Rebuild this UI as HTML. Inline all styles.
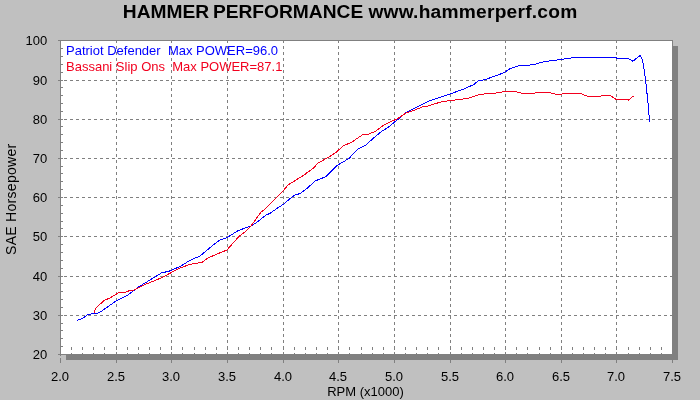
<!DOCTYPE html>
<html lang="en"><head><meta charset="utf-8"><title>HAMMER PERFORMANCE www.hammerperf.com</title>
<style>html,body{margin:0;padding:0;background:#c0c0c0;}body{width:700px;height:400px;overflow:hidden;}svg{display:block;}text{font-family:"Liberation Sans",Arial,Helvetica,sans-serif;}</style></head><body>
<svg width="700" height="400" viewBox="0 0 700 400">
<rect x="0" y="0" width="700" height="400" fill="#c0c0c0"/>
<g shape-rendering="crispEdges">
<rect x="66" y="46" width="612" height="314" fill="#808080"/>
<rect x="60" y="40" width="613" height="315" fill="#808080"/>
<rect x="61" y="41" width="611" height="313" fill="#ffffff"/>
<line x1="58" y1="40.5" x2="672" y2="40.5" stroke="#808080" stroke-width="1" stroke-dasharray="3 3"/>
<line x1="58" y1="80.5" x2="672" y2="80.5" stroke="#808080" stroke-width="1" stroke-dasharray="3 3"/>
<line x1="58" y1="119.5" x2="672" y2="119.5" stroke="#808080" stroke-width="1" stroke-dasharray="3 3"/>
<line x1="58" y1="158.5" x2="672" y2="158.5" stroke="#808080" stroke-width="1" stroke-dasharray="3 3"/>
<line x1="58" y1="197.5" x2="672" y2="197.5" stroke="#808080" stroke-width="1" stroke-dasharray="3 3"/>
<line x1="58" y1="236.5" x2="672" y2="236.5" stroke="#808080" stroke-width="1" stroke-dasharray="3 3"/>
<line x1="58" y1="276.5" x2="672" y2="276.5" stroke="#808080" stroke-width="1" stroke-dasharray="3 3"/>
<line x1="58" y1="315.5" x2="672" y2="315.5" stroke="#808080" stroke-width="1" stroke-dasharray="3 3"/>
<line x1="58" y1="354.5" x2="672" y2="354.5" stroke="#808080" stroke-width="1" stroke-dasharray="3 3"/>
<line x1="60.5" y1="40" x2="60.5" y2="363" stroke="#808080" stroke-width="1" stroke-dasharray="3 3"/>
<line x1="60.5" y1="347" x2="60.5" y2="362" stroke="#808080" stroke-width="1" stroke-dasharray="3 3"/>
<line x1="116.5" y1="40" x2="116.5" y2="363" stroke="#808080" stroke-width="1" stroke-dasharray="3 3"/>
<line x1="116.5" y1="347" x2="116.5" y2="362" stroke="#808080" stroke-width="1" stroke-dasharray="3 3"/>
<line x1="171.5" y1="40" x2="171.5" y2="363" stroke="#808080" stroke-width="1" stroke-dasharray="3 3"/>
<line x1="171.5" y1="347" x2="171.5" y2="362" stroke="#808080" stroke-width="1" stroke-dasharray="3 3"/>
<line x1="227.5" y1="40" x2="227.5" y2="363" stroke="#808080" stroke-width="1" stroke-dasharray="3 3"/>
<line x1="227.5" y1="347" x2="227.5" y2="362" stroke="#808080" stroke-width="1" stroke-dasharray="3 3"/>
<line x1="283.5" y1="40" x2="283.5" y2="363" stroke="#808080" stroke-width="1" stroke-dasharray="3 3"/>
<line x1="283.5" y1="347" x2="283.5" y2="362" stroke="#808080" stroke-width="1" stroke-dasharray="3 3"/>
<line x1="338.5" y1="40" x2="338.5" y2="363" stroke="#808080" stroke-width="1" stroke-dasharray="3 3"/>
<line x1="338.5" y1="347" x2="338.5" y2="362" stroke="#808080" stroke-width="1" stroke-dasharray="3 3"/>
<line x1="394.5" y1="40" x2="394.5" y2="363" stroke="#808080" stroke-width="1" stroke-dasharray="3 3"/>
<line x1="394.5" y1="347" x2="394.5" y2="362" stroke="#808080" stroke-width="1" stroke-dasharray="3 3"/>
<line x1="450.5" y1="40" x2="450.5" y2="363" stroke="#808080" stroke-width="1" stroke-dasharray="3 3"/>
<line x1="450.5" y1="347" x2="450.5" y2="362" stroke="#808080" stroke-width="1" stroke-dasharray="3 3"/>
<line x1="505.5" y1="40" x2="505.5" y2="363" stroke="#808080" stroke-width="1" stroke-dasharray="3 3"/>
<line x1="505.5" y1="347" x2="505.5" y2="362" stroke="#808080" stroke-width="1" stroke-dasharray="3 3"/>
<line x1="561.5" y1="40" x2="561.5" y2="363" stroke="#808080" stroke-width="1" stroke-dasharray="3 3"/>
<line x1="561.5" y1="347" x2="561.5" y2="362" stroke="#808080" stroke-width="1" stroke-dasharray="3 3"/>
<line x1="616.5" y1="40" x2="616.5" y2="363" stroke="#808080" stroke-width="1" stroke-dasharray="3 3"/>
<line x1="616.5" y1="347" x2="616.5" y2="362" stroke="#808080" stroke-width="1" stroke-dasharray="3 3"/>
<line x1="672.5" y1="40" x2="672.5" y2="363" stroke="#808080" stroke-width="1" stroke-dasharray="3 3"/>
<line x1="672.5" y1="347" x2="672.5" y2="362" stroke="#808080" stroke-width="1" stroke-dasharray="3 3"/>
<rect x="58" y="40" width="5" height="1" fill="#808080"/>
<rect x="60" y="48" width="3" height="1" fill="#808080"/>
<rect x="60" y="56" width="3" height="1" fill="#808080"/>
<rect x="60" y="64" width="3" height="1" fill="#808080"/>
<rect x="60" y="72" width="3" height="1" fill="#808080"/>
<rect x="58" y="80" width="5" height="1" fill="#808080"/>
<rect x="60" y="87" width="3" height="1" fill="#808080"/>
<rect x="60" y="95" width="3" height="1" fill="#808080"/>
<rect x="60" y="103" width="3" height="1" fill="#808080"/>
<rect x="60" y="111" width="3" height="1" fill="#808080"/>
<rect x="58" y="119" width="5" height="1" fill="#808080"/>
<rect x="60" y="126" width="3" height="1" fill="#808080"/>
<rect x="60" y="134" width="3" height="1" fill="#808080"/>
<rect x="60" y="142" width="3" height="1" fill="#808080"/>
<rect x="60" y="150" width="3" height="1" fill="#808080"/>
<rect x="58" y="158" width="5" height="1" fill="#808080"/>
<rect x="60" y="166" width="3" height="1" fill="#808080"/>
<rect x="60" y="173" width="3" height="1" fill="#808080"/>
<rect x="60" y="181" width="3" height="1" fill="#808080"/>
<rect x="60" y="189" width="3" height="1" fill="#808080"/>
<rect x="58" y="197" width="5" height="1" fill="#808080"/>
<rect x="60" y="205" width="3" height="1" fill="#808080"/>
<rect x="60" y="213" width="3" height="1" fill="#808080"/>
<rect x="60" y="221" width="3" height="1" fill="#808080"/>
<rect x="60" y="228" width="3" height="1" fill="#808080"/>
<rect x="58" y="236" width="5" height="1" fill="#808080"/>
<rect x="60" y="244" width="3" height="1" fill="#808080"/>
<rect x="60" y="252" width="3" height="1" fill="#808080"/>
<rect x="60" y="260" width="3" height="1" fill="#808080"/>
<rect x="60" y="268" width="3" height="1" fill="#808080"/>
<rect x="58" y="276" width="5" height="1" fill="#808080"/>
<rect x="60" y="283" width="3" height="1" fill="#808080"/>
<rect x="60" y="291" width="3" height="1" fill="#808080"/>
<rect x="60" y="299" width="3" height="1" fill="#808080"/>
<rect x="60" y="307" width="3" height="1" fill="#808080"/>
<rect x="58" y="315" width="5" height="1" fill="#808080"/>
<rect x="60" y="323" width="3" height="1" fill="#808080"/>
<rect x="60" y="330" width="3" height="1" fill="#808080"/>
<rect x="60" y="338" width="3" height="1" fill="#808080"/>
<rect x="60" y="346" width="3" height="1" fill="#808080"/>
<rect x="58" y="354" width="5" height="1" fill="#808080"/>
<line x1="71.5" y1="347" x2="71.5" y2="355" stroke="#808080" stroke-width="1" stroke-dasharray="3 3"/>
<line x1="82.5" y1="347" x2="82.5" y2="355" stroke="#808080" stroke-width="1" stroke-dasharray="3 3"/>
<line x1="93.5" y1="347" x2="93.5" y2="355" stroke="#808080" stroke-width="1" stroke-dasharray="3 3"/>
<line x1="104.5" y1="347" x2="104.5" y2="355" stroke="#808080" stroke-width="1" stroke-dasharray="3 3"/>
<line x1="127.5" y1="347" x2="127.5" y2="355" stroke="#808080" stroke-width="1" stroke-dasharray="3 3"/>
<line x1="138.5" y1="347" x2="138.5" y2="355" stroke="#808080" stroke-width="1" stroke-dasharray="3 3"/>
<line x1="149.5" y1="347" x2="149.5" y2="355" stroke="#808080" stroke-width="1" stroke-dasharray="3 3"/>
<line x1="160.5" y1="347" x2="160.5" y2="355" stroke="#808080" stroke-width="1" stroke-dasharray="3 3"/>
<line x1="182.5" y1="347" x2="182.5" y2="355" stroke="#808080" stroke-width="1" stroke-dasharray="3 3"/>
<line x1="194.5" y1="347" x2="194.5" y2="355" stroke="#808080" stroke-width="1" stroke-dasharray="3 3"/>
<line x1="205.5" y1="347" x2="205.5" y2="355" stroke="#808080" stroke-width="1" stroke-dasharray="3 3"/>
<line x1="216.5" y1="347" x2="216.5" y2="355" stroke="#808080" stroke-width="1" stroke-dasharray="3 3"/>
<line x1="238.5" y1="347" x2="238.5" y2="355" stroke="#808080" stroke-width="1" stroke-dasharray="3 3"/>
<line x1="249.5" y1="347" x2="249.5" y2="355" stroke="#808080" stroke-width="1" stroke-dasharray="3 3"/>
<line x1="260.5" y1="347" x2="260.5" y2="355" stroke="#808080" stroke-width="1" stroke-dasharray="3 3"/>
<line x1="271.5" y1="347" x2="271.5" y2="355" stroke="#808080" stroke-width="1" stroke-dasharray="3 3"/>
<line x1="294.5" y1="347" x2="294.5" y2="355" stroke="#808080" stroke-width="1" stroke-dasharray="3 3"/>
<line x1="305.5" y1="347" x2="305.5" y2="355" stroke="#808080" stroke-width="1" stroke-dasharray="3 3"/>
<line x1="316.5" y1="347" x2="316.5" y2="355" stroke="#808080" stroke-width="1" stroke-dasharray="3 3"/>
<line x1="327.5" y1="347" x2="327.5" y2="355" stroke="#808080" stroke-width="1" stroke-dasharray="3 3"/>
<line x1="349.5" y1="347" x2="349.5" y2="355" stroke="#808080" stroke-width="1" stroke-dasharray="3 3"/>
<line x1="361.5" y1="347" x2="361.5" y2="355" stroke="#808080" stroke-width="1" stroke-dasharray="3 3"/>
<line x1="372.5" y1="347" x2="372.5" y2="355" stroke="#808080" stroke-width="1" stroke-dasharray="3 3"/>
<line x1="383.5" y1="347" x2="383.5" y2="355" stroke="#808080" stroke-width="1" stroke-dasharray="3 3"/>
<line x1="405.5" y1="347" x2="405.5" y2="355" stroke="#808080" stroke-width="1" stroke-dasharray="3 3"/>
<line x1="416.5" y1="347" x2="416.5" y2="355" stroke="#808080" stroke-width="1" stroke-dasharray="3 3"/>
<line x1="427.5" y1="347" x2="427.5" y2="355" stroke="#808080" stroke-width="1" stroke-dasharray="3 3"/>
<line x1="438.5" y1="347" x2="438.5" y2="355" stroke="#808080" stroke-width="1" stroke-dasharray="3 3"/>
<line x1="461.5" y1="347" x2="461.5" y2="355" stroke="#808080" stroke-width="1" stroke-dasharray="3 3"/>
<line x1="472.5" y1="347" x2="472.5" y2="355" stroke="#808080" stroke-width="1" stroke-dasharray="3 3"/>
<line x1="483.5" y1="347" x2="483.5" y2="355" stroke="#808080" stroke-width="1" stroke-dasharray="3 3"/>
<line x1="494.5" y1="347" x2="494.5" y2="355" stroke="#808080" stroke-width="1" stroke-dasharray="3 3"/>
<line x1="516.5" y1="347" x2="516.5" y2="355" stroke="#808080" stroke-width="1" stroke-dasharray="3 3"/>
<line x1="527.5" y1="347" x2="527.5" y2="355" stroke="#808080" stroke-width="1" stroke-dasharray="3 3"/>
<line x1="539.5" y1="347" x2="539.5" y2="355" stroke="#808080" stroke-width="1" stroke-dasharray="3 3"/>
<line x1="550.5" y1="347" x2="550.5" y2="355" stroke="#808080" stroke-width="1" stroke-dasharray="3 3"/>
<line x1="572.5" y1="347" x2="572.5" y2="355" stroke="#808080" stroke-width="1" stroke-dasharray="3 3"/>
<line x1="583.5" y1="347" x2="583.5" y2="355" stroke="#808080" stroke-width="1" stroke-dasharray="3 3"/>
<line x1="594.5" y1="347" x2="594.5" y2="355" stroke="#808080" stroke-width="1" stroke-dasharray="3 3"/>
<line x1="605.5" y1="347" x2="605.5" y2="355" stroke="#808080" stroke-width="1" stroke-dasharray="3 3"/>
<line x1="628.5" y1="347" x2="628.5" y2="355" stroke="#808080" stroke-width="1" stroke-dasharray="3 3"/>
<line x1="639.5" y1="347" x2="639.5" y2="355" stroke="#808080" stroke-width="1" stroke-dasharray="3 3"/>
<line x1="650.5" y1="347" x2="650.5" y2="355" stroke="#808080" stroke-width="1" stroke-dasharray="3 3"/>
<line x1="661.5" y1="347" x2="661.5" y2="355" stroke="#808080" stroke-width="1" stroke-dasharray="3 3"/>
<rect x="60" y="360" width="1" height="3" fill="#808080"/>
<rect x="116" y="360" width="1" height="3" fill="#808080"/>
<rect x="171" y="360" width="1" height="3" fill="#808080"/>
<rect x="227" y="360" width="1" height="3" fill="#808080"/>
<rect x="283" y="360" width="1" height="3" fill="#808080"/>
<rect x="338" y="360" width="1" height="3" fill="#808080"/>
<rect x="394" y="360" width="1" height="3" fill="#808080"/>
<rect x="450" y="360" width="1" height="3" fill="#808080"/>
<rect x="505" y="360" width="1" height="3" fill="#808080"/>
<rect x="561" y="360" width="1" height="3" fill="#808080"/>
<rect x="616" y="360" width="1" height="3" fill="#808080"/>
<rect x="672" y="360" width="1" height="3" fill="#808080"/>
<rect x="60" y="40" width="1" height="315" fill="#808080"/>
<rect x="58" y="354" width="615" height="1" fill="#808080"/>
<rect x="66" y="355" width="612" height="5" fill="#808080"/>
<rect x="672" y="40" width="1" height="315" fill="#808080"/>
<rect x="60" y="40" width="613" height="1" fill="#808080"/>
<polyline fill="none" stroke="#0000ff" stroke-width="1" points="77.4,320.4 83.0,318.0 88.0,314.4 92.0,313.8 97.0,313.6 101.0,311.6 106.0,308.0 116.0,301.0 128.0,295.0 133.0,291.0 140.0,286.0 150.0,280.0 162.0,272.6 168.0,271.6 180.0,266.6 190.0,260.3 200.0,256.0 212.0,246.0 220.0,240.0 227.4,237.4 238.0,230.6 250.0,226.4 256.0,223.0 266.0,215.0 270.0,213.4 278.0,207.6 283.4,204.4 289.0,199.4 295.0,195.0 300.0,193.6 308.0,187.6 315.0,181.0 326.0,176.6 337.0,165.6 349.0,158.4 358.0,149.0 366.0,145.0 374.0,137.6 382.0,131.0 388.0,127.5 397.0,120.0 400.0,118.0 406.0,112.4 418.0,106.4 430.0,100.6 450.0,94.0 464.0,89.0 474.0,84.4 478.0,81.0 486.0,79.4 492.0,77.0 504.0,72.8 510.0,68.6 518.0,66.0 526.0,65.6 536.0,64.0 544.0,61.6 560.0,59.6 574.0,57.6 616.0,57.6 617.0,58.4 627.5,58.4 633.0,61.2 640.0,55.5 641.5,57.6 643.3,63.6 645.6,80.5 647.8,100.8 649.6,122.0"/>
<polyline fill="none" stroke="#f2001e" stroke-width="1" points="94.0,313.0 95.6,308.6 104.0,300.4 109.0,298.4 120.0,292.0 126.0,292.0 130.0,290.4 134.0,290.0 144.0,285.0 162.0,277.6 176.0,270.0 180.0,268.0 190.0,264.4 202.0,262.4 208.0,258.0 218.0,253.6 227.0,250.0 234.0,242.0 239.0,236.4 246.0,231.0 251.0,226.0 261.0,212.0 264.0,210.0 275.0,199.0 283.6,190.4 288.0,185.0 304.0,175.0 314.0,167.6 318.0,163.0 328.0,157.6 337.0,151.6 343.0,146.0 352.0,142.0 363.0,134.4 368.0,134.4 376.0,131.0 383.0,125.6 390.0,122.0 398.0,118.4 406.0,113.0 415.0,110.0 422.0,107.0 428.0,106.0 442.0,101.6 450.0,100.6 468.0,98.4 478.0,95.0 486.0,93.6 496.0,93.0 505.0,91.4 515.0,91.6 521.0,93.0 530.0,94.0 538.0,92.4 548.0,92.4 555.0,94.0 561.0,94.4 564.0,93.4 580.0,93.4 588.0,96.4 600.0,96.4 604.0,95.2 610.0,95.4 616.0,99.4 627.0,99.6 628.5,100.0 633.6,96.0"/>
</g>
<text y="17.7" font-size="19.2" font-weight="bold" fill="#000"><tspan x="122.8">HAMMER</tspan> <tspan x="212.9">PERFORMANCE</tspan> <tspan x="368.4" letter-spacing="0.22">www.hammerperf.com</tspan></text>
<text x="47.2" y="45" text-anchor="end" font-size="13" fill="#000">100</text>
<text x="47.2" y="85" text-anchor="end" font-size="13" fill="#000">90</text>
<text x="47.2" y="124" text-anchor="end" font-size="13" fill="#000">80</text>
<text x="47.2" y="163" text-anchor="end" font-size="13" fill="#000">70</text>
<text x="47.2" y="202" text-anchor="end" font-size="13" fill="#000">60</text>
<text x="47.2" y="241" text-anchor="end" font-size="13" fill="#000">50</text>
<text x="47.2" y="281" text-anchor="end" font-size="13" fill="#000">40</text>
<text x="47.2" y="320" text-anchor="end" font-size="13" fill="#000">30</text>
<text x="47.2" y="359" text-anchor="end" font-size="13" fill="#000">20</text>
<text x="60" y="381" text-anchor="middle" font-size="13" fill="#000">2.0</text>
<text x="116" y="381" text-anchor="middle" font-size="13" fill="#000">2.5</text>
<text x="171" y="381" text-anchor="middle" font-size="13" fill="#000">3.0</text>
<text x="227" y="381" text-anchor="middle" font-size="13" fill="#000">3.5</text>
<text x="283" y="381" text-anchor="middle" font-size="13" fill="#000">4.0</text>
<text x="338" y="381" text-anchor="middle" font-size="13" fill="#000">4.5</text>
<text x="394" y="381" text-anchor="middle" font-size="13" fill="#000">5.0</text>
<text x="450" y="381" text-anchor="middle" font-size="13" fill="#000">5.5</text>
<text x="505" y="381" text-anchor="middle" font-size="13" fill="#000">6.0</text>
<text x="561" y="381" text-anchor="middle" font-size="13" fill="#000">6.5</text>
<text x="616" y="381" text-anchor="middle" font-size="13" fill="#000">7.0</text>
<text x="672" y="381" text-anchor="middle" font-size="13" fill="#000">7.5</text>
<text x="365.5" y="396" text-anchor="middle" font-size="13" fill="#000">RPM (x1000)</text>
<text transform="translate(15.6,255) rotate(-90)" font-size="14" letter-spacing="0.3" fill="#000">SAE Horsepower</text>
<text x="66" y="54.5" font-size="13" fill="#0000ff" style="white-space:pre">Patriot Defender  Max POWER=96.0</text>
<text x="66" y="70.5" font-size="13" fill="#f2001e" style="white-space:pre">Bassani Slip Ons  Max POWER=87.1</text>
</svg></body></html>
